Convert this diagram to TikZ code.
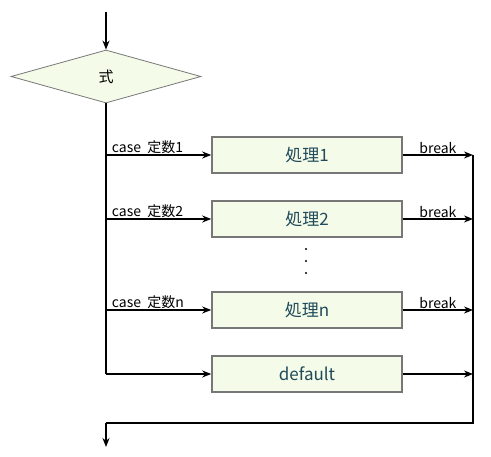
\documentclass[tikz,border=0pt]{standalone}
\usepackage{fontspec}
\setmainfont{Noto Sans CJK JP}
\usetikzlibrary{shapes.geometric,arrows.meta}

\definecolor{boxfill}{HTML}{F5FBE9}
\definecolor{boxline}{HTML}{777777}
\definecolor{boxtext}{HTML}{1F4A5A}

\tikzset{
  flow/.style={line width=1.5pt,-{Stealth[length=9pt,width=7pt]}},
  plain/.style={line width=1.5pt},
  decision/.style={diamond,draw=boxline,fill=boxfill,line width=0.8pt,inner sep=0pt,
    minimum width=190pt,minimum height=53pt,aspect=3.6,font=\fontsize{15}{17}\selectfont},
  procbox/.style={rectangle,draw=boxline,fill=boxfill,line width=1.6pt,
    minimum width=190pt,minimum height=36pt,text=boxtext,font=\fontsize{17}{20}\selectfont},
  caselabel/.style={font=\fontsize{14}{16}\selectfont,inner sep=1pt},
}

\begin{document}
\begin{tikzpicture}[x=1pt,y=-1pt]
  \useasboundingbox (0,0) rectangle (491,457);
  % entry and decision
  \coordinate (start) at (106,12);
  \node[decision] (expr) at (106,76.5) {式};
  \draw[flow] (start) -- (expr.north);

  % case branches
  \node[procbox] (p1) at (307,155) {処理1};
  \node[procbox] (p2) at (307,219) {処理2};
  \node[procbox] (pn) at (307,310) {処理n};
  \node[procbox] (pd) at (307,374) {default};

  \coordinate (c1) at (106,155);
  \coordinate (c2) at (106,219);
  \coordinate (cn) at (106,310);
  \coordinate (cd) at (106,374);
  \draw[plain] (expr.south) -- (cd);
  \draw[flow] (c1) -- node[caselabel,pos=0.04,above right] {case\ \ 定数1} (p1);
  \draw[flow] (c2) -- node[caselabel,pos=0.04,above right] {case\ \ 定数2} (p2);
  \draw[flow] (cn) -- node[caselabel,pos=0.04,above right] {case\ \ 定数n} (pn);
  \draw[flow] (cd) -- (pd);

  % dots
  \foreach \dy in {249,261,273}
    \fill (306,\dy) circle (1.2pt);

  % break side
  \coordinate (r1) at (473,155);
  \coordinate (r2) at (473,219);
  \coordinate (rn) at (473,310);
  \coordinate (rd) at (473,374);
  \coordinate (merge) at (473,423);
  \coordinate (back) at (106,423);
  \coordinate (exit) at (106,447);
  \draw[flow] (p1) -- node[caselabel,above] {break} (r1);
  \draw[flow] (p2) -- node[caselabel,above] {break} (r2);
  \draw[flow] (pn) -- node[caselabel,above] {break} (rn);
  \draw[flow] (pd) -- (rd);
  \draw[plain] (r1) -- (merge) -- (back);
  \draw[flow] (back) -- (exit);
\end{tikzpicture}
\end{document}
